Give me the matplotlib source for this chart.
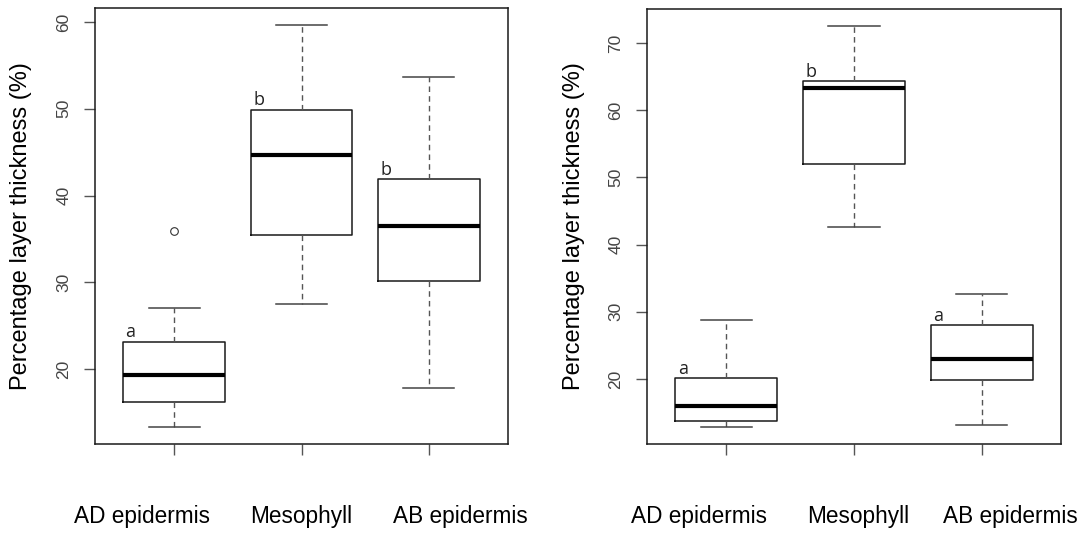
import matplotlib
matplotlib.use("Agg")
import matplotlib.pyplot as plt

categories = ["AD epidermis", "Mesophyll", "AB epidermis"]

# left panel: whisker low, Q1, median, Q3, whisker high
left_whislo = [13.3, 27.5, 17.8]
left_q1 = [16.2, 35.45, 30.2]
left_med = [19.4, 44.7, 36.55]
left_q3 = [23.2, 49.9, 41.9]
left_whishi = [27.1, 59.7, 53.6]
left_fliers = [[35.9], [], []]
left_letters = ["a", "b", "b"]
left_yticks = [20, 30, 40, 50, 60]
left_ylim = (11.4, 61.6)

# right panel
right_whislo = [12.8, 42.6, 13.2]
right_q1 = [13.7, 52.0, 19.85]
right_med = [15.9, 63.3, 22.9]
right_q3 = [20.15, 64.4, 28.0]
right_whishi = [28.7, 72.6, 32.65]
right_fliers = [[], [], []]
right_letters = ["a", "b", "a"]
right_yticks = [20, 30, 40, 50, 60, 70]
right_ylim = (10.3, 75.1)

ylabel = "Percentage layer thickness (%)"

fig = plt.figure(figsize=(10.82, 5.33), dpi=100)
W, H = 1082, 533

def make_axes(x0, x1, y0, y1):
    return fig.add_axes([x0 / W, 1 - y1 / H, (x1 - x0) / W, (y1 - y0) / H])

def panel(ax, whislo, q1, med, q3, whishi, fliers, letters, yticks, ylim):
    stats = []
    for i in range(len(med)):
        stats.append(dict(whislo=whislo[i], q1=q1[i], med=med[i], q3=q3[i],
                          whishi=whishi[i], fliers=fliers[i], label=""))
    pos = [1, 2, 3]
    ax.bxp(stats, positions=pos, widths=0.8, showfliers=True,
           boxprops=dict(color="#1a1a1a", linewidth=1.1),
           medianprops=dict(color="black", linewidth=3.0, solid_capstyle="butt"),
           whiskerprops=dict(color="#555555", linewidth=1.0, linestyle=(0, (4, 3))),
           capprops=dict(color="#444444", linewidth=1.1),
           flierprops=dict(marker="o", markersize=5.5, markerfacecolor="none",
                           markeredgecolor="#333333", markeredgewidth=0.8),
           capwidths=0.4)
    ax.set_xlim(0.38, 3.62)
    ax.set_ylim(*ylim)
    ax.set_yticks(yticks)
    ax.set_yticklabels([str(t) for t in yticks], rotation=90, va="center",
                       fontsize=12.5, color="#444444", family="Liberation Sans")
    ax.set_xticks(pos)
    ax.set_xticklabels([])
    ax.tick_params(axis="both", length=8, width=1.0, color="#555555", pad=9)
    for s in ax.spines.values():
        s.set_linewidth(1.1)
        s.set_color("#1a1a1a")
    for i, letter in enumerate(letters):
        ax.annotate(letter, xy=(pos[i] - 0.38, q3[i]), xytext=(0, 3),
                    textcoords="offset points", ha="left", va="baseline",
                    fontsize=13, family="Open Sans", color="#222222")

ax1 = make_axes(95, 508, 8, 444)
panel(ax1, left_whislo, left_q1, left_med, left_q3, left_whishi, left_fliers,
      left_letters, left_yticks, left_ylim)
ax2 = make_axes(647, 1061, 9, 444)
panel(ax2, right_whislo, right_q1, right_med, right_q3, right_whishi, right_fliers,
      right_letters, right_yticks, right_ylim)

# y-axis labels
fig.text(21 / W, 1 - 226 / H, ylabel, rotation=90, ha="center", va="center",
         fontsize=17, family="Liberation Sans")
fig.text(574 / W, 1 - 226 / H, ylabel, rotation=90, ha="center", va="center",
         fontsize=17, family="Liberation Sans")

# category labels below panels
left_label_x = [142, 301, 460]
right_label_x = [699, 858, 1010]
for cx, c in zip(left_label_x, categories):
    fig.text(cx / W, 1 - 517 / H, c, ha="center", va="center", fontsize=16.3,
             family="Liberation Sans")
for cx, c in zip(right_label_x, categories):
    fig.text(cx / W, 1 - 517 / H, c, ha="center", va="center", fontsize=16.3,
             family="Liberation Sans")

fig.savefig("out.png", dpi=100)
